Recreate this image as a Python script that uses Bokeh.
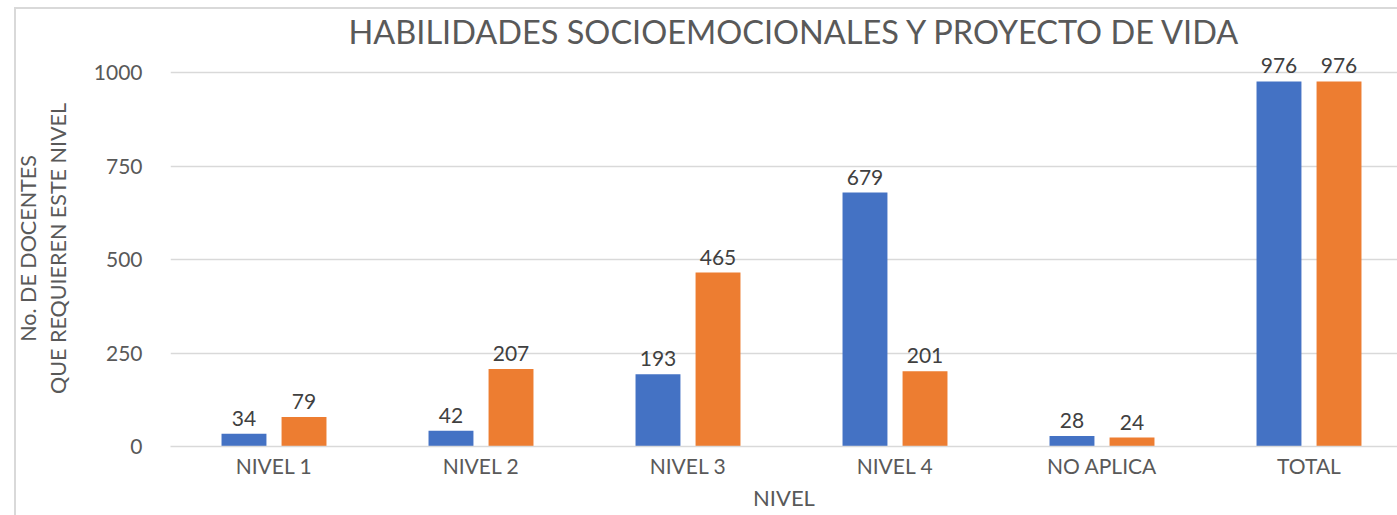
from bokeh.plotting import figure
from bokeh.models import ColumnDataSource, Range1d, FixedTicker
from bokeh.transform import dodge
from bokeh.core.properties import value
from bokeh.embed import file_html
from bokeh.resources import INLINE

categories = ["NIVEL 1", "NIVEL 2", "NIVEL 3", "NIVEL 4", "NO APLICA", "TOTAL"]
serie_azul = [34, 42, 193, 679, 28, 976]
serie_naranja = [79, 207, 465, 201, 24, 976]
y_ticks = [0, 250, 500, 750, 1000]

title_text = "HABILIDADES SOCIOEMOCIONALES Y PROYECTO DE VIDA"
y_label = "No. DE DOCENTES\nQUE REQUIEREN ESTE NIVEL"
x_label = "NIVEL"

FONT = "Lato"
GRAY = "#595959"
BORDER = "#D9D9D9"

pos = [i + 0.5 for i in range(len(categories))]
src = ColumnDataSource(dict(
    x=pos,
    a=serie_azul,
    b=serie_naranja,
    at=[str(v) for v in serie_azul],
    bt=[str(v) for v in serie_naranja],
))

LEFT, TOP, BOTTOM = 170, 50, 69
FW, FH = 1227, 396
px_per_cat = 207.0
px_per_unit_y = 0.374

p = figure(
    frame_width=FW, frame_height=FH,
    x_range=Range1d(0, FW / px_per_cat),
    y_range=Range1d(0, FH / px_per_unit_y),
    output_backend="svg", toolbar_location=None,
    min_border_left=LEFT, min_border_right=0,
    min_border_top=TOP, min_border_bottom=BOTTOM,
)
p.outline_line_color = None
p.background_fill_color = "white"
p.border_fill_color = None
# chart container edges (left and top), drawn as CSS behind the transparent border area
p.styles = {
    "background": (
        f"linear-gradient({BORDER},{BORDER}) 14px 7px / 2px 100% no-repeat, "
        f"linear-gradient({BORDER},{BORDER}) 14px 7px / 100% 2px no-repeat, white"
    )
}

p.title.text = title_text
p.title.align = "left"
p.title.offset = 178
p.title.text_font = FONT
p.title.text_font_size = "32.5px"
p.title.text_font_style = "normal"
p.title.text_color = GRAY
p.title.standoff = 0

# y axis
p.yaxis.ticker = FixedTicker(ticks=y_ticks)
p.yaxis.axis_line_color = None
p.yaxis.major_tick_line_color = None
p.yaxis.minor_tick_line_color = None
p.yaxis.major_tick_out = 0
p.yaxis.major_tick_in = 0
p.yaxis.minor_tick_out = 0
p.yaxis.major_label_standoff = 28
p.yaxis.major_label_text_font = FONT
p.yaxis.major_label_text_font_size = "21px"
p.yaxis.major_label_text_color = GRAY
p.yaxis.axis_label = y_label
p.yaxis.axis_label_text_font = FONT
p.yaxis.axis_label_text_font_size = "21.5px"
p.yaxis.axis_label_text_font_style = "normal"
p.yaxis.axis_label_text_color = GRAY
p.yaxis.axis_label_text_line_height = 1.14
p.yaxis.axis_label_standoff = 20

p.ygrid.ticker = FixedTicker(ticks=y_ticks)
p.ygrid.grid_line_color = "#D9D9D9"
p.ygrid.grid_line_width = 1.5
p.xgrid.visible = False

# x axis
p.xaxis.ticker = FixedTicker(ticks=pos)
p.xaxis.major_label_overrides = {x: c for x, c in zip(pos, categories)}
p.xaxis.axis_line_color = "#D9D9D9"
p.xaxis.axis_line_width = 1.5
p.xaxis.major_tick_line_color = None
p.xaxis.minor_tick_line_color = None
p.xaxis.major_tick_out = 0
p.xaxis.major_tick_in = 0
p.xaxis.minor_tick_out = 0
p.xaxis.major_label_standoff = 6
p.xaxis.major_label_text_font = FONT
p.xaxis.major_label_text_font_size = "21px"
p.xaxis.major_label_text_color = GRAY
p.xaxis.axis_label = x_label
p.xaxis.axis_label_text_font = FONT
p.xaxis.axis_label_text_font_size = "22px"
p.xaxis.axis_label_text_font_style = "normal"
p.xaxis.axis_label_text_color = GRAY
p.xaxis.axis_label_standoff = 3

OFF = 0.145
BW = 0.217
p.vbar(x=dodge("x", -OFF, range=p.x_range), top="a", width=BW, source=src,
       fill_color="#4472C4", line_color=None)
p.vbar(x=dodge("x", OFF, range=p.x_range), top="b", width=BW, source=src,
       fill_color="#ED7D31", line_color=None)

for col, txt, off in (("a", "at", -OFF), ("b", "bt", OFF)):
    p.text(x=dodge("x", off, range=p.x_range), y=col, text=txt, source=src,
           text_align="center", text_baseline="bottom", y_offset=-8,
           text_font=value(FONT), text_font_size="21px", text_color="#404040")

open("out.html", "w").write(file_html(p, INLINE))
